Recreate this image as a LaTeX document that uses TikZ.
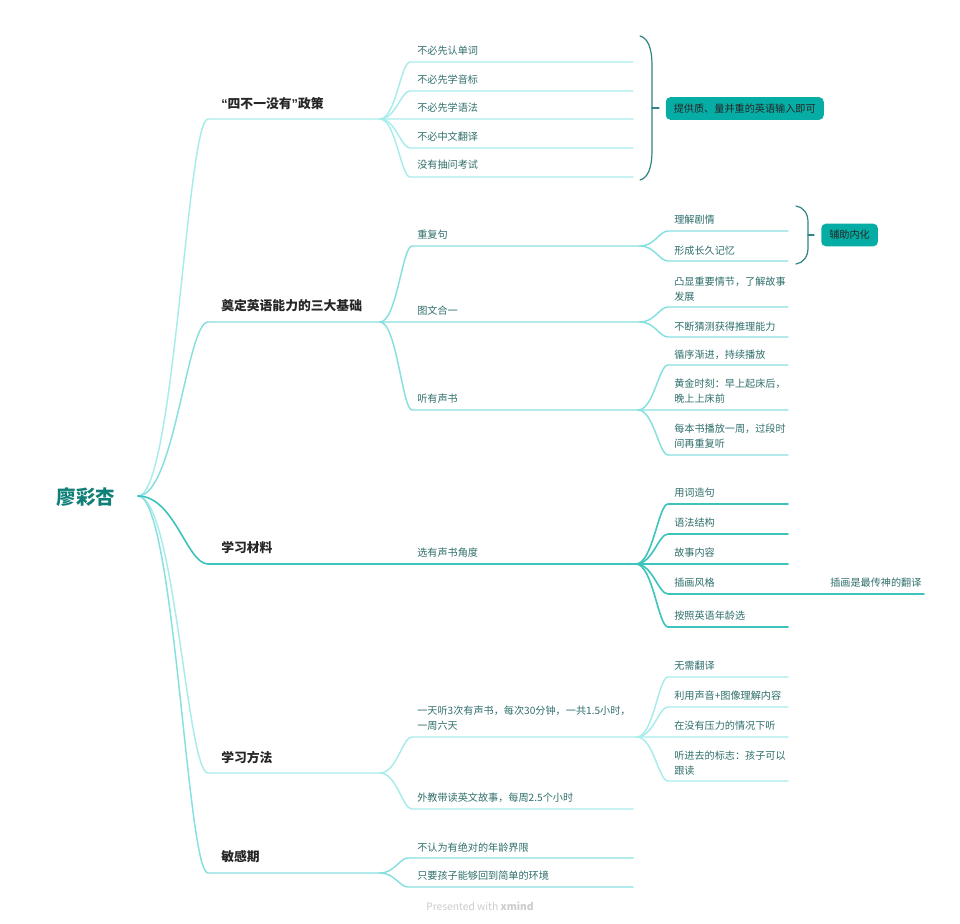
\documentclass[tikz,border=0pt]{standalone}
\usepackage{fontspec}
\setmainfont{Noto Sans CJK SC}
\newfontfamily\quotefont{Liberation Sans}
\usetikzlibrary{calc}
\definecolor{pale}{HTML}{A8ECEC}
\definecolor{mid}{HTML}{86E0E0}
\definecolor{deep}{HTML}{3CC4BC}
\definecolor{leaf}{HTML}{2F6F6C}
\definecolor{rootc}{HTML}{0F7F78}
\definecolor{brace}{HTML}{2F8582}
\definecolor{tag}{HTML}{05ADA5}
\tikzset{
  x=0.75pt,y=-0.75pt,
  link/.style={draw=pale,line width=1.1pt,line cap=round,line join=round},
  linkmid/.style={link,draw=mid},
  linkdeep/.style={link,draw=deep,line width=1.2pt},
  leaftext/.style={anchor=west,inner sep=0pt,yshift=-0.75pt,text=leaf,font=\fontsize{7.6}{11.3}\selectfont,align=left},
  headtext/.style={anchor=west,inner sep=0pt,yshift=-0.75pt,text=black!85,font=\fontsize{9.6}{12}\selectfont\bfseries},
  roottext/.style={anchor=center,inner sep=0pt,yshift=-0.75pt,text=rootc,font=\fontsize{14.6}{16}\selectfont\bfseries},
  tagbox/.style={anchor=west,fill=tag,rounded corners=3.5pt,inner sep=0pt,minimum height=17pt},
  tagtext/.style={anchor=center,inner sep=0pt,text=black!85,font=\fontsize{7.6}{10}\selectfont},
  bracket/.style={draw=brace,line width=0.9pt,line cap=round},
}
% curve from #2 to its knee #3, then straight on to #4
\newcommand\lnk[4][link]{%
  \draw[#1] let \p1=(#2),\p2=(#3) in (#2)
    .. controls ($(\x1,\y1)!.52!(\x2,\y1)$) and ($(\x2,\y2)!.3!(\x1,\y2)$) .. (#3) -- (#4);}
\begin{document}
\begin{tikzpicture}
\useasboundingbox (0,0) rectangle (960,924);
\fill[white] (0,0) rectangle (960,924);

% joints -----------------------------------------------------------
\coordinate (r) at (138,496);
\coordinate (k1) at (208,119);  \coordinate (j1) at (380,119);
\coordinate (k2) at (208,322);  \coordinate (j2) at (380,322);
\coordinate (k3) at (208,564);  \coordinate (j3) at (636,564);
\coordinate (k4) at (208,773);  \coordinate (j4) at (380,773);
\coordinate (k5) at (208,873);  \coordinate (j5) at (380,873);

% root branches ----------------------------------------------------
\lnk{r}{k1}{j1}
\lnk[linkmid]{r}{k2}{j2}
\lnk{r}{k4}{j4}
\lnk[linkmid]{r}{k5}{j5}
\lnk[linkdeep]{r}{k3}{j3}

% branch 1 leaves
\foreach \nm/\yy in {a/62,b/91,c/119,d/148,e/177}{
  \coordinate (k1\nm) at (410,\yy); \coordinate (e1\nm) at (633,\yy);
  \lnk{j1}{k1\nm}{e1\nm}
}
% branch 2
\coordinate (k21) at (412,246); \coordinate (j21) at (640,246);
\coordinate (k22) at (412,322); \coordinate (j22) at (640,322);
\coordinate (k23) at (412,410); \coordinate (j23) at (638,410);
\lnk[linkmid]{j2}{k21}{j21}
\lnk[linkmid]{j2}{k22}{j22}
\lnk[linkmid]{j2}{k23}{j23}
\foreach \src/\nm/\yy in {j21/a/231,j21/b/261,j22/c/307,j22/d/337,j23/e/365,j23/f/410,j23/g/455}{
  \coordinate (k2\nm) at (668,\yy); \coordinate (e2\nm) at (788,\yy);
  \lnk[linkmid]{\src}{k2\nm}{e2\nm}
}
% branch 3
\foreach \nm/\yy in {a/504,b/534,c/564,d/594,e/627}{
  \coordinate (k3\nm) at (668,\yy); \coordinate (e3\nm) at (788,\yy);
}
\coordinate (e3d) at (924,594);
\foreach \nm in {a,b,c,d,e}{\lnk[linkdeep]{j3}{k3\nm}{e3\nm}}
% branch 4
\coordinate (k41) at (412,737); \coordinate (j41) at (637,737);
\coordinate (k42) at (412,809); \coordinate (e42) at (633,809);
\lnk{j4}{k41}{j41}
\lnk{j4}{k42}{e42}
\foreach \nm/\yy in {a/677,b/707,c/737,d/781}{
  \coordinate (k4\nm) at (668,\yy); \coordinate (e4\nm) at (788,\yy);
  \lnk{j41}{k4\nm}{e4\nm}
}
% branch 5
\coordinate (k51) at (408,858); \coordinate (e51) at (633,858);
\coordinate (k52) at (408,887); \coordinate (e52) at (633,887);
\lnk[linkmid]{j5}{k51}{e51}
\lnk[linkmid]{j5}{k52}{e52}

% texts ------------------------------------------------------------
\node[roottext] (root) at (86,496) {廖彩杏};
\node[headtext] (h1) at (221,103) {{\quotefont\symbol{"201C}}四不一没有{\quotefont\symbol{"201D}}政策};
\node[headtext] (h2) at (221,305) {奠定英语能力的三大基础};
\node[headtext] (h3) at (221,547) {学习材料};
\node[headtext] (h4) at (221,757) {学习方法};
\node[headtext] (h5) at (221,856) {敏感期};

\node[leaftext] (t1a) at (417,50) {不必先认单词};
\node[leaftext] (t1b) at (417,79) {不必先学音标};
\node[leaftext] (t1c) at (417,107) {不必先学语法};
\node[leaftext] (t1d) at (417,136) {不必中文翻译};
\node[leaftext] (t1e) at (417,164) {没有抽问考试};

\node[leaftext] (t21) at (417,234) {重复句};
\node[leaftext] (t22) at (417,310) {图文合一};
\node[leaftext] (t23) at (417,398) {听有声书};
\node[leaftext] (t2a) at (674,219) {理解剧情};
\node[leaftext] (t2b) at (674,250) {形成长久记忆};
\node[leaftext] (t2c) at (674,288) {凸显重要情节，了解故事\\发展};
\node[leaftext] (t2d) at (674,326) {不断猜测获得推理能力};
\node[leaftext] (t2e) at (674,354) {循序渐进，持续播放};
\node[leaftext] (t2f) at (674,390) {黄金时刻：早上起床后，\\晚上上床前};
\node[leaftext] (t2g) at (674,435) {每本书播放一周，过段时\\间再重复听};

\node[leaftext] (t31) at (417,552) {选有声书角度};
\node[leaftext] (t3a) at (674,492) {用词造句};
\node[leaftext] (t3b) at (674,522) {语法结构};
\node[leaftext] (t3c) at (674,552) {故事内容};
\node[leaftext] (t3d) at (674,582) {插画风格};
\node[leaftext] (t3e) at (674,615) {按照英语年龄选};
\node[leaftext] (t3f) at (830,582) {插画是最传神的翻译};

\node[leaftext] (t41) at (417,717) {一天听3次有声书，每次30分钟，一共1.5小时，\\一周六天};
\node[leaftext] (t42) at (417,797) {外教带读英文故事，每周2.5个小时};
\node[leaftext] (t4a) at (674,665) {无需翻译};
\node[leaftext] (t4b) at (674,695) {利用声音+图像理解内容};
\node[leaftext] (t4c) at (674,725) {在没有压力的情况下听};
\node[leaftext] (t4d) at (674,762) {听进去的标志：孩子可以\\跟读};

\node[leaftext] (t51) at (417,847) {不认为有绝对的年龄界限};
\node[leaftext] (t52) at (417,875) {只要孩子能够回到简单的环境};

\node[anchor=center,inner sep=0pt,text=black!20,font=\fontsize{7.7}{9}\selectfont] (foot) at (480,906) {Presented with \textbf{xmind}};

% summaries --------------------------------------------------------
\node[tagbox,minimum width=118.5pt] (s1) at (665.5,108.5) {};
\node[tagtext] (s1t) at (s1.center) {提供质、量并重的英语输入即可};
\node[tagbox,minimum width=42.5pt] (s2) at (821,235) {};
\node[tagtext] (s2t) at (s2.center) {辅助内化};
\coordinate (b1t) at (640,36);  \coordinate (b1b) at (640,180);
\coordinate (b1m) at (652,108); \coordinate (b1s) at (659,108);
\coordinate (b2t) at (796,206); \coordinate (b2b) at (796,264);
\coordinate (b2m) at (808,235); \coordinate (b2s) at (814,235);
\draw[bracket] (b1t) .. controls (647,38) and (652,46) .. (652,66) -- (652,150)
   .. controls (652,170) and (647,178) .. (b1b);
\draw[bracket] (b1m) -- (b1s);
\draw[bracket] (b2t) .. controls (803,207) and (808,213) .. (808,222) -- (808,248)
   .. controls (808,257) and (803,263) .. (b2b);
\draw[bracket] (b2m) -- (b2s);
\end{tikzpicture}
\end{document}
